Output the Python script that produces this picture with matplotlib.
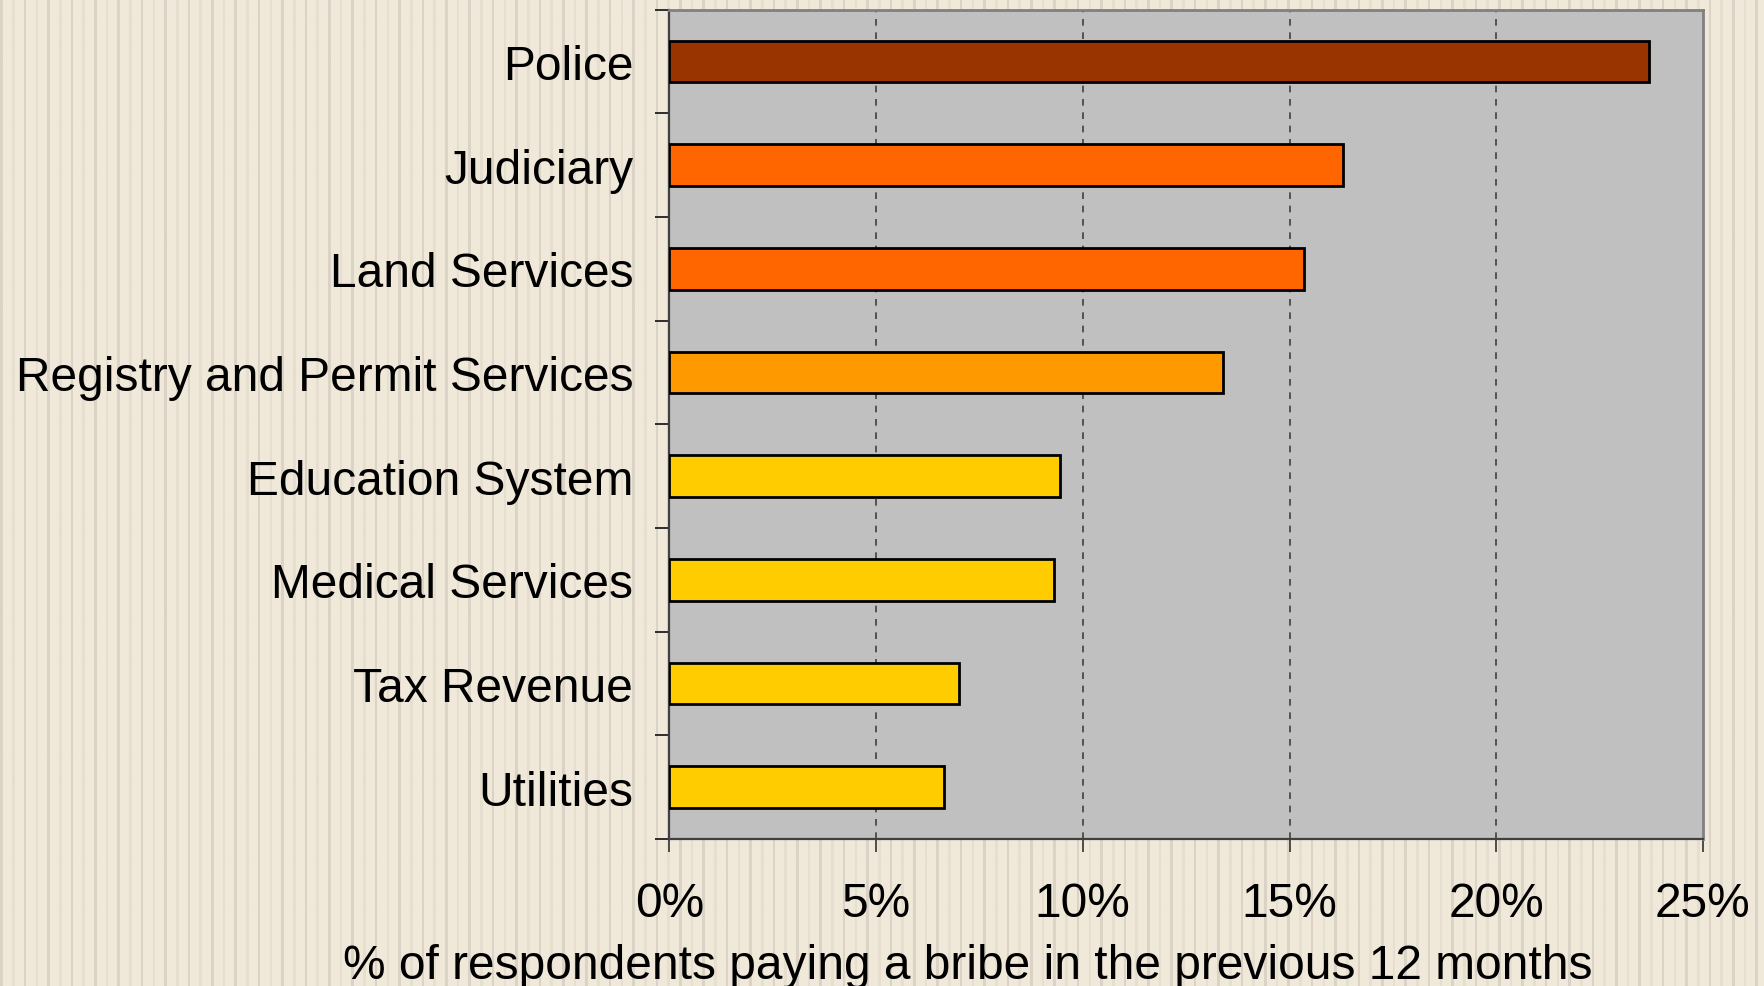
import numpy as np
import matplotlib
matplotlib.use("Agg")
import matplotlib.pyplot as plt
from matplotlib.ticker import FixedLocator, FuncFormatter

# Share of respondents who paid a bribe, by institution (percent)
categories = ["Police", "Judiciary", "Land Services", "Registry and Permit Services",
              "Education System", "Medical Services", "Tax Revenue", "Utilities"]
values = [23.7, 16.3, 15.35, 13.4, 9.45, 9.3, 7.0, 6.65]
bar_colors = ["#993300", "#FF6600", "#FF6600", "#FF9900",
              "#FFCC00", "#FFCC00", "#FFCC00", "#FFCC00"]
x_ticks = [0, 5, 10, 15, 20, 25]
x_label = "% of respondents paying a bribe in the previous 12 months"

W, H, DPI = 1765, 987, 100
FS = 34.5
plt.rcParams["font.family"] = ["Liberation Sans", "DejaVu Sans"]

fig = plt.figure(figsize=(W / DPI, H / DPI), dpi=DPI)

# Striped beige backdrop over the whole canvas
bg = fig.add_axes([0, 0, 1, 1], zorder=-10)
xs = np.arange(W)
base = np.array([240, 233, 218], dtype=float)
dark = np.array([218, 211, 198], dtype=float)
light = np.array([230, 223, 208], dtype=float)
row = np.tile(base, (W, 1))
period = 11.7
phase = xs % period
idx = (xs // period).astype(int)
mask_dark = (phase < 2.6) & (idx % 2 == 0)
mask_light = (phase < 2.6) & (idx % 2 == 1)
row[mask_dark] = dark
row[mask_light] = light
img = np.repeat(row[np.newaxis, :, :], 4, axis=0) / 255.0
bg.imshow(img, aspect="auto", extent=[0, 1, 0, 1], interpolation="bilinear")
bg.set_axis_off()

ax = fig.add_axes([669.3 / W, 1 - 840 / H, (1703 - 669.3) / W, (840 - 10.7) / H])
ax.set_facecolor("#C0C0C0")

n = len(categories)
ypos = np.arange(n)
ax.barh(ypos, values, height=0.4, color=bar_colors, edgecolor="black",
        linewidth=2.0, zorder=3)

ax.set_xlim(0, 25)
ax.set_ylim(n - 0.5, -0.5)

# Dashed vertical gridlines at interior ticks
for xv in x_ticks[1:-1]:
    ax.axvline(xv, color="#404040", linestyle=(0, (4, 4)), linewidth=1.2, zorder=1)

ax.xaxis.set_major_locator(FixedLocator(x_ticks))
ax.xaxis.set_major_formatter(FuncFormatter(lambda v, p: f"{v:.0f}%"))
ax.tick_params(axis="x", direction="out", length=9, width=1.3, color="#404040",
               labelsize=FS, pad=21)

ax.set_yticks(ypos)
ax.set_yticklabels(categories)
ax.yaxis.set_minor_locator(FixedLocator(np.arange(n + 1) - 0.5))
ax.tick_params(axis="y", which="major", length=0, labelsize=FS, pad=26)
ax.tick_params(axis="y", which="minor", direction="out", length=10, width=1.3,
               color="#202020")

for side in ("left", "bottom"):
    ax.spines[side].set_color("#404040")
    ax.spines[side].set_linewidth(1.6)
for side in ("top", "right"):
    ax.spines[side].set_color("#808080")
    ax.spines[side].set_linewidth(2.0)

fig.text(968 / W, 1 - 967 / H, x_label, ha="center", va="center", fontsize=FS)

fig.savefig("out.png", dpi=DPI)
